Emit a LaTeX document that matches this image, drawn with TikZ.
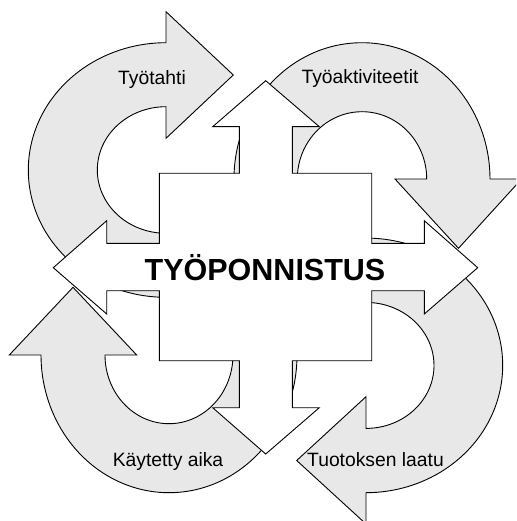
\documentclass[tikz,border=0pt]{standalone}
\usepackage{fontspec}
\setmainfont{Liberation Sans}
\usetikzlibrary{calc}
\definecolor{cyclefill}{RGB}{232,232,232}
\tikzset{
  cyclearrow/.style={draw=black, fill=cyclefill, line width=0.9pt},
  crossarrow/.style={draw=black, fill=white, line width=0.9pt},
  cyclelabel/.style={anchor=base, inner sep=0pt, font=\fontsize{19.3}{23}\selectfont},
  mainlabel/.style={anchor=base, inner sep=0pt, font=\bfseries\fontsize{30.5}{36}\selectfont},
}
\begin{document}
\begin{tikzpicture}[x=1pt, y=-1pt]
\useasboundingbox (0,0) rectangle (516,521);
\clip (0,0) rectangle (516,521);

% upper left cycle arrow (head at the top, pointing right)
\draw[cyclearrow] ($(166,170)+(85:137.7 and 127.3)$)
  arc[start angle=85, end angle=270, x radius=137.7, y radius=127.3]
  -- (166,11.7) -- (233.3,75) -- (166,138.3) -- (166,106.7)
  arc[start angle=270, end angle=85, x radius=68.7, y radius=63.3] -- cycle;

% upper right cycle arrow (head at the right, pointing down)
\draw[cyclearrow] ($(362,179)+(175:128 and 136.3)$)
  arc[start angle=175, end angle=360, x radius=128, y radius=136.3]
  -- (521.6,179) -- (458.5,248.3) -- (395,179) -- (426.7,179)
  arc[start angle=360, end angle=175, x radius=64.7, y radius=67.3] -- cycle;

% lower left cycle arrow (head at the left, pointing up)
\draw[cyclearrow] ($(169,355)+(-5:128 and 137.7)$)
  arc[start angle=-5, end angle=180, x radius=128, y radius=137.7]
  -- (9.3,355) -- (73,287.3) -- (136.7,355) -- (105,355)
  arc[start angle=180, end angle=-5, x radius=64, y radius=68.7] -- cycle;

% lower right cycle arrow (head at the bottom, pointing left)
\draw[cyclearrow] ($(366,365.4)+(-95:136.7 and 127.3)$)
  arc[start angle=-95, end angle=90, x radius=136.7, y radius=127.3]
  -- (366,524) -- (296.7,460.5) -- (366,396.7) -- (366,428.4)
  arc[start angle=90, end angle=-95, x radius=68, y radius=63] -- cycle;

% central four-way arrow
\draw[crossarrow]
  (265.7,80.7) -- (319.3,126.7) -- (292.3,126.7) -- (292.3,173.3)
  -- (371.7,173.3) -- (371.7,243.3) -- (424.3,243.3) -- (424.3,220.7)
  -- (477.7,267.7) -- (424.3,314) -- (424.3,290.7) -- (371.7,290.7)
  -- (371.7,360.7) -- (292.3,360.7) -- (292.3,407.7) -- (319.3,407.7)
  -- (265.7,454) -- (212.7,407.7) -- (239.3,407.7) -- (239.3,360.7)
  -- (159.3,360.7) -- (159.3,290.7) -- (106.7,290.7) -- (106.7,314)
  -- (53.3,267.7) -- (106.7,220.7) -- (106.7,243.3) -- (159.3,243.3)
  -- (159.3,173.3) -- (239.3,173.3) -- (239.3,126.7) -- (212.7,126.7)
  -- cycle;

% labels
\node[mainlabel] (effort) at (265,280) {TYÖPONNISTUS};
\node[cyclelabel] (pace) at (152,85) {Työtahti};
\node[cyclelabel] (activities) at (360,84) {Työaktiviteetit};
\node[cyclelabel] (timeused) at (168,466.7) {Käytetty aika};
\node[cyclelabel] (quality) at (375.5,466) {Tuotoksen laatu};
\end{tikzpicture}
\end{document}
